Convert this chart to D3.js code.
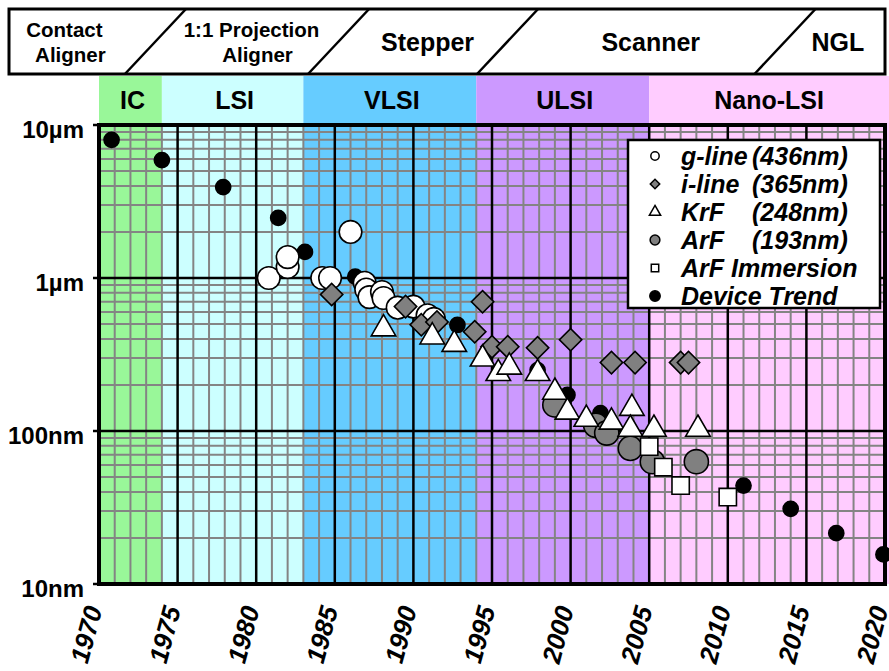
<!DOCTYPE html>
<html>
<head>
<meta charset="utf-8">
<script src="https://cdn.jsdelivr.net/npm/d3@7"></script>
<style>
  body { margin: 0; background: #fff; }
  text { font-family: "Liberation Sans", Arial, sans-serif; font-weight: bold; }
</style>
</head>
<body>
<script>
// lithography tool eras shown in the header box
var toolNames = [["Contact", "Aligner"], ["1:1 Projection", "Aligner"], ["Stepper"], ["Scanner"], ["NGL"]],
    toolCenters = [1967.8, 1979.7, 1990.9, 2005.1, 2017.0],
    toolBounds = [1971.65, 1983.3, 1994.05, 2011.7];

// device generations (coloured bands)
var eraNames = ["IC", "LSI", "VLSI", "ULSI", "Nano-LSI"],
    eraStart = [1970, 1974, 1983, 1994, 2005],
    eraEnd = [1974, 1983, 1994, 2005, 2020.3],
    eraColors = ["#99f799", "#ccffff", "#66ccff", "#cc99ff", "#ffccff"];

var yearTicks = [1970, 1975, 1980, 1985, 1990, 1995, 2000, 2005, 2010, 2015, 2020],
    sizeTicks = [10, 100, 1000, 10000];

// [year, feature size in nm]
var gLine = [[1980.8, 1000], [1982.0, 1180], [1982.0, 1370], [1986.0, 2000], [1984.2, 1000], [1984.7, 1000],
             [1986.9, 930], [1987.0, 840], [1987.2, 750], [1988.0, 810], [1988.1, 740], [1989.0, 640],
             [1990.0, 650], [1990.9, 570], [1991.3, 540]];
var iLine = [[1984.8, 780], [1989.5, 650], [1990.5, 495], [1991.5, 515], [1993.9, 445], [1994.4, 700],
             [1995.0, 355], [1996.0, 355], [1997.9, 350], [2000.0, 395], [2002.6, 280], [2004.1, 280],
             [2007.0, 280], [2007.5, 280]];
var krf = [[1988.1, 480], [1991.2, 425], [1992.6, 380], [1994.4, 305], [1995.4, 245], [1996.1, 270],
           [1997.9, 245], [1999.0, 185], [1999.8, 137], [2001.0, 123], [2002.6, 118], [2003.9, 145],
           [2003.8, 106], [2005.3, 106], [2008.1, 106]];
var arf = [[1999.0, 148], [2001.6, 109], [2002.3, 97], [2003.8, 77], [2005.2, 63], [2008.0, 63]];
var arfImm = [[2005.0, 79], [2005.9, 58], [2007.0, 44], [2010.0, 37]];
var device = [[1970.8, 8000], [1974.0, 5900], [1977.9, 3930], [1981.4, 2470], [1983.1, 1480], [1986.3, 1020],
              [1992.8, 493], [1997.9, 250], [1999.8, 172], [2001.9, 131], [2011.0, 44], [2014.0, 31],
              [2016.9, 21.5], [2019.9, 15.6]];

var legendNames = ["g-line", "i-line", "KrF", "ArF", "ArF Immersion", "Device Trend"],
    legendWaves = ["(436nm)", "(365nm)", "(248nm)", "(193nm)", "", ""];

var W = 889, H = 671;
var x = d3.scaleLinear().domain([1970, 2020]).range([99, 885]),
    y = d3.scaleLog().domain([10, 10000]).range([584, 125]);

var svg = d3.select("body").append("svg")
    .attr("width", W)
    .attr("height", H);

// header box with tool names
var head = svg.append("g");
head.append("rect")
    .attr("x", 9).attr("y", 9).attr("width", 876).attr("height", 65)
    .attr("fill", "#fff").attr("stroke", "#000").attr("stroke-width", 3);
head.selectAll("line")
    .data(toolBounds)
  .enter().append("line")
    .attr("x1", function(d) { return x(d); }).attr("y1", 74)
    .attr("x2", function(d) { return x(d) + 61; }).attr("y2", 9)
    .attr("stroke", "#000").attr("stroke-width", 2.5);
head.selectAll("text")
    .data(toolNames)
  .enter().append("text")
    .attr("text-anchor", "middle")
    .attr("font-size", function(d) { return d.length > 1 ? 20.5 : 25; })
    .attr("transform", function(d, i) { return "translate(" + x(toolCenters[i]) + "," + (d.length > 1 ? 37 : 51) + ")"; })
    .each(function(d) {
      var t = d3.select(this);
      d.forEach(function(s, j) {
        t.append("tspan").attr("x", j ? 6 : 0).attr("dy", j ? 25 : 0).text(s);
      });
    });

// colour bands
svg.selectAll(".era")
    .data(eraNames)
  .enter().append("rect")
    .attr("class", "era")
    .attr("x", function(d, i) { return x(eraStart[i]); })
    .attr("width", function(d, i) { return x(eraEnd[i]) - x(eraStart[i]) + (i == 4 ? 10 : 0); })
    .attr("y", 76).attr("height", 584 - 76)
    .attr("fill", function(d, i) { return eraColors[i]; });
svg.selectAll(".eraLabel")
    .data(eraNames)
  .enter().append("text")
    .attr("class", "eraLabel")
    .attr("text-anchor", "middle")
    .attr("font-size", 25)
    .attr("x", function(d, i) { return (x(eraStart[i]) + Math.min(x(eraEnd[i]) + 4, W)) / 2; })
    .attr("y", 109)
    .text(String);

// grid
var grid = svg.append("g");
var minorYears = d3.range(1971, 2020).filter(function(d) { return d % 5; });
var minorSizes = [];
[10, 100, 1000].forEach(function(b) { d3.range(2, 10).forEach(function(k) { minorSizes.push(b * k); }); });

grid.selectAll(".vmin").data(minorYears).enter().append("line")
    .attr("x1", x).attr("x2", x).attr("y1", 125).attr("y2", 584)
    .attr("stroke", "#848484").attr("stroke-width", 2);
grid.selectAll(".hmin").data(minorSizes).enter().append("line")
    .attr("y1", y).attr("y2", y).attr("x1", 99).attr("x2", 885)
    .attr("stroke", "#848484").attr("stroke-width", 2);
grid.selectAll(".vmaj").data(yearTicks).enter().append("line")
    .attr("x1", x).attr("x2", x).attr("y1", 125).attr("y2", 584)
    .attr("stroke", "#000").attr("stroke-width", 2.5);
grid.selectAll(".hmaj").data(sizeTicks).enter().append("line")
    .attr("y1", y).attr("y2", y).attr("x1", 93).attr("x2", 885)
    .attr("stroke", "#000").attr("stroke-width", 2.5);
svg.append("rect")
    .attr("x", 99).attr("y", 125).attr("width", 786).attr("height", 459)
    .attr("fill", "none").attr("stroke", "#000").attr("stroke-width", 4);

// axes
var yAxis = svg.append("g")
    .attr("transform", "translate(84,0)")
    .call(d3.axisLeft(y).tickValues(sizeTicks).tickSize(0)
      .tickFormat(function(d) { return d >= 1000 ? (d / 1000) + "\u00b5m" : d + "nm"; }));
yAxis.select(".domain").remove();
yAxis.selectAll("text")
    .attr("x", 0).attr("dy", "0.5em")
    .attr("fill", "#000")
    .style("font-size", "24px").style("font-family", "'Liberation Sans', Arial, sans-serif").style("font-weight", "bold");

var xAxis = svg.append("g")
    .attr("transform", "translate(0,600)")
    .call(d3.axisBottom(x).tickValues(yearTicks).tickSize(0).tickFormat(d3.format("d")));
xAxis.select(".domain").remove();
xAxis.selectAll("text")
    .attr("y", 0).attr("dy", 0)
    .attr("text-anchor", "end")
    .attr("transform", "translate(3,9) rotate(-75)")
    .attr("fill", "#000")
    .style("font-size", "26px").style("font-style", "italic")
    .style("font-family", "'Liberation Sans', Arial, sans-serif").style("font-weight", "bold");

// markers
var sym = {
  circle: d3.symbol().type(d3.symbolCircle),
  square: d3.symbol().type(d3.symbolSquare),
  tri: d3.symbol().type(d3.symbolTriangle)
};
var series = [
  {data: device, path: sym.circle.size(180)(), fill: "#000", rot: 0, dy: 0},
  {data: gLine, path: sym.circle.size(400)(), fill: "#fff", rot: 0, dy: 0},
  {data: iLine, path: sym.square.size(250)(), fill: "#808080", rot: 45, dy: 0},
  {data: arf, path: sym.circle.size(460)(), fill: "#808080", rot: 0, dy: 0},
  {data: krf, path: sym.tri.size(260)(), fill: "#fff", rot: 0, dy: 2},
  {data: arfImm, path: sym.square.size(300)(), fill: "#fff", rot: 0, dy: 0}
];
series.forEach(function(s) {
  svg.append("g").selectAll("path")
      .data(s.data)
    .enter().append("path")
      .attr("d", s.path)
      .attr("transform", function(d) { return "translate(" + x(d[0]) + "," + (y(d[1]) + s.dy) + ") rotate(" + s.rot + ")"; })
      .attr("fill", s.fill)
      .attr("stroke", "#000")
      .attr("stroke-width", 1.6);
});

// legend
var leg = svg.append("g");
leg.append("rect")
    .attr("x", 628).attr("y", 140).attr("width", 252).attr("height", 168)
    .attr("fill", "#fff").attr("stroke", "#000").attr("stroke-width", 2.5);
var legSym = [
  {path: sym.circle.size(55)(), fill: "#fff", rot: 0},
  {path: sym.square.size(45)(), fill: "#808080", rot: 45},
  {path: sym.tri.size(55)(), fill: "#fff", rot: 0},
  {path: sym.circle.size(75)(), fill: "#808080", rot: 0},
  {path: sym.square.size(55)(), fill: "#fff", rot: 0},
  {path: sym.circle.size(85)(), fill: "#000", rot: 0}
];
var row = leg.selectAll(".row")
    .data(legendNames)
  .enter().append("g")
    .attr("transform", function(d, i) { return "translate(0," + (156 + i * 28) + ")"; });
row.append("path")
    .attr("d", function(d, i) { return legSym[i].path; })
    .attr("transform", function(d, i) { return "translate(655,0) rotate(" + legSym[i].rot + ")"; })
    .attr("fill", function(d, i) { return legSym[i].fill; })
    .attr("stroke", "#000").attr("stroke-width", 1.5);
row.append("text")
    .attr("x", 681).attr("y", 9)
    .attr("font-size", 25).attr("font-style", "italic")
    .text(String);
row.append("text")
    .attr("x", 752).attr("y", 9)
    .attr("font-size", 25).attr("font-style", "italic")
    .text(function(d, i) { return legendWaves[i]; });
</script>
</body>
</html>
